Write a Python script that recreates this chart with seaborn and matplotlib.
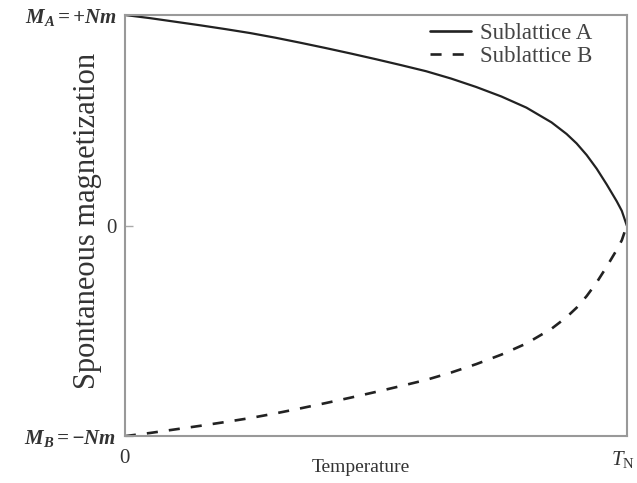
import numpy as np
import pandas as pd
import matplotlib
matplotlib.use("Agg")
import matplotlib.pyplot as plt
import matplotlib.transforms as mtransforms
import seaborn as sns

# ── Data (reduced temperature T/T_N, M/Nm) ────────────────────────────────────
temperature = [0.0, 0.05, 0.1, 0.15, 0.2, 0.25, 0.3, 0.35, 0.4, 0.45, 0.5, 0.55,
               0.6, 0.65, 0.7, 0.75, 0.8, 0.85, 0.88, 0.9, 0.92, 0.94, 0.96,
               0.98, 0.99, 1.0]
mag_a = [1.0, 0.985, 0.968, 0.951, 0.933, 0.914, 0.892, 0.868, 0.843, 0.817,
         0.79, 0.762, 0.733, 0.698, 0.658, 0.613, 0.56, 0.49, 0.435, 0.39,
         0.335, 0.27, 0.195, 0.115, 0.07, 0.0]
mag_b = [-m for m in mag_a]
series = ["Sublattice A", "Sublattice B"]

y_ticks = [1, 0, -1]
y_labels = [r"$\mathbf{M_A = +Nm}\enspace$", "0", r"$\mathbf{M_B = -Nm}\enspace$"]
x_ticks = [0, 1]
x_labels = ["0", r"$T_\mathrm{N}$"]

df = pd.DataFrame({
    "T": temperature * 2,
    "M": mag_a + mag_b,
    "lattice": [series[0]] * len(mag_a) + [series[1]] * len(mag_b),
})

# ── Style ─────────────────────────────────────────────────────────────────────
sns.set_theme(style="white")
plt.rcParams["font.family"] = ["Liberation Serif", "DejaVu Serif"]
plt.rcParams["mathtext.fontset"] = "custom"
plt.rcParams["mathtext.rm"] = "Liberation Serif"
plt.rcParams["mathtext.it"] = "Liberation Serif:italic"
plt.rcParams["mathtext.bf"] = "Liberation Serif:italic:bold"

fig = plt.figure(figsize=(6.37, 4.83), dpi=100)
ax = fig.add_axes([0.196, 0.097, 0.788, 0.872])

sns.lineplot(data=df, x="T", y="M", style="lattice", ax=ax,
             color="#222222", linewidth=1.9,
             dashes={series[0]: "", series[1]: (4.2, 4.2)})
ax.get_lines()[0].set_linewidth(1.6)

ax.set_xlim(0, 1)
ax.set_ylim(-1, 1)
ax.set_xticks(x_ticks, x_labels)
ax.set_yticks(y_ticks, y_labels)
ax.tick_params(axis="y", labelsize=15, colors="#333333", length=6, width=1.0,
               direction="in", left=True, pad=6)
ax.tick_params(axis="y", color="#aaaaaa")
ax.tick_params(axis="x", labelsize=15, colors="#333333", bottom=False, pad=3)

# keep T_N just inside the canvas
shift = mtransforms.ScaledTranslation(-4 / 100, 0, fig.dpi_scale_trans)
tn = ax.get_xticklabels()[-1]
tn.set_transform(tn.get_transform() + shift)

ax.set_xlabel("Temperature", fontsize=14, color="#333333", va="center")
ax.xaxis.set_label_coords(0.47, -0.074)
ax.set_ylabel("Spontaneous magnetization", fontsize=22, color="#333333", va="center")
ax.yaxis.set_label_coords(-0.074, 0.51)

for s in ax.spines.values():
    s.set_color("#999999")
    s.set_linewidth(1.5)

leg = ax.legend(loc="upper right", bbox_to_anchor=(0.932, 0.98), frameon=False,
                fontsize=16.5, title=None, handlelength=1.8, handletextpad=0.4,
                labelspacing=0.05, borderpad=0, borderaxespad=0)
for t in leg.get_texts():
    t.set_color("#444444")

fig.savefig("out.png", dpi=100)
